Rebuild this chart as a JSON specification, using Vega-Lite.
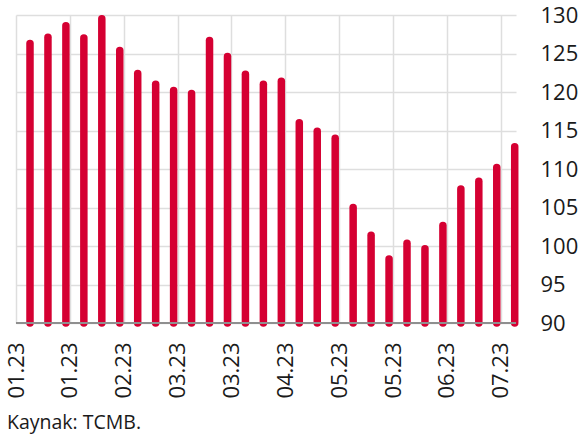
{
  "$schema": "https://vega.github.io/schema/vega-lite/v6.json",
  "width": 500,
  "height": 308,
  "autosize": {"type": "none"},
  "padding": {"left": 16, "top": 15, "right": 68, "bottom": 116},
  "background": "white",
  "config": {
    "view": {"stroke": null},
    "font": "Open Sans"
  },
  "title": {
    "text": "Kaynak: TCMB.",
    "orient": "bottom",
    "anchor": "start",
    "frame": "group",
    "fontSize": 19.5,
    "fontWeight": "normal",
    "color": "#1a1a1a",
    "font": "Open Sans",
    "dx": -9,
    "offset": 16
  },
  "data": {
    "values": [
      {"date": "2022-12-31", "value": 128.6},
      {"date": "2023-01-07", "value": 126.3},
      {"date": "2023-01-14", "value": 127.1},
      {"date": "2023-01-21", "value": 128.6},
      {"date": "2023-01-28", "value": 127.0},
      {"date": "2023-02-04", "value": 129.5},
      {"date": "2023-02-11", "value": 125.4},
      {"date": "2023-02-18", "value": 122.4},
      {"date": "2023-02-25", "value": 121.0},
      {"date": "2023-03-04", "value": 120.2},
      {"date": "2023-03-11", "value": 119.8},
      {"date": "2023-03-18", "value": 126.7},
      {"date": "2023-03-25", "value": 124.6},
      {"date": "2023-04-01", "value": 122.3},
      {"date": "2023-04-08", "value": 121.0},
      {"date": "2023-04-15", "value": 121.4},
      {"date": "2023-04-22", "value": 116.0},
      {"date": "2023-04-29", "value": 114.9},
      {"date": "2023-05-06", "value": 114.0},
      {"date": "2023-05-13", "value": 105.0},
      {"date": "2023-05-20", "value": 101.4},
      {"date": "2023-05-27", "value": 98.3},
      {"date": "2023-06-03", "value": 100.35},
      {"date": "2023-06-10", "value": 99.65},
      {"date": "2023-06-17", "value": 102.65},
      {"date": "2023-06-24", "value": 107.4},
      {"date": "2023-07-01", "value": 108.4},
      {"date": "2023-07-08", "value": 110.2},
      {"date": "2023-07-15", "value": 112.9}
    ]
  },
  "encoding": {
    "x": {
      "field": "date",
      "type": "temporal",
      "scale": {
        "type": "utc",
        "domain": [
          {"year": 2023, "month": 1, "date": 1, "hours": 13, "utc": true},
          {"year": 2023, "month": 7, "date": 15, "hours": 12, "utc": true}
        ]
      },
      "axis": {
        "title": null,
        "orient": "bottom",
        "domain": false,
        "ticks": false,
        "grid": true,
        "gridColor": "#dedede",
        "gridWidth": 1.5,
        "values": [
          {"year": 2023, "month": 1, "date": 1, "hours": 13, "utc": true},
          {"year": 2023, "month": 1, "date": 22, "hours": 13, "utc": true},
          {"year": 2023, "month": 2, "date": 12, "hours": 13, "utc": true},
          {"year": 2023, "month": 3, "date": 5, "hours": 13, "utc": true},
          {"year": 2023, "month": 3, "date": 26, "hours": 13, "utc": true},
          {"year": 2023, "month": 4, "date": 16, "hours": 13, "utc": true},
          {"year": 2023, "month": 5, "date": 7, "hours": 13, "utc": true},
          {"year": 2023, "month": 5, "date": 28, "hours": 13, "utc": true},
          {"year": 2023, "month": 6, "date": 18, "hours": 13, "utc": true},
          {"year": 2023, "month": 7, "date": 9, "hours": 13, "utc": true}
        ],
        "labelExpr": "utcFormat(datum.value, '%m.%y')",
        "labelAngle": 270,
        "labelAlign": "right",
        "labelBaseline": "middle",
        "labelFontSize": 22,
        "labelColor": "#1a1a1a",
        "labelPadding": 19,
        "labelFlush": false,
        "labelOverlap": false,
        "labelBound": false
      }
    },
    "y": {
      "field": "value",
      "type": "quantitative",
      "scale": {"domain": [90, 130], "nice": false, "zero": false},
      "axis": {
        "title": null,
        "orient": "right",
        "domain": false,
        "ticks": false,
        "grid": true,
        "gridColor": "#dedede",
        "gridWidth": 1.5,
        "values": [90, 95, 100, 105, 110, 115, 120, 125, 130],
        "labelFontSize": 22,
        "labelColor": "#1a1a1a",
        "labelPadding": 24,
        "labelAlign": "left",
        "labelFlush": false,
        "labelOverlap": false,
        "labelBound": false
      }
    },
    "y2": {"datum": 90}
  },
  "layer": [
    {
      "transform": [{"filter": "utcyear(toDate(datum.date)) > 2022"}],
      "mark": {"type": "rule", "color": "#d50032", "strokeWidth": 7.5, "strokeCap": "round", "clip": false}
    },
    {
      "transform": [{"filter": "utcyear(toDate(datum.date)) <= 2022"}],
      "mark": {"type": "rule", "color": "#d50032", "strokeWidth": 7.5, "strokeCap": "round", "clip": true}
    },
    {
      "mark": {"type": "rule", "color": "#8f8f8f", "strokeWidth": 2},
      "encoding": {
        "x": {"value": 0},
        "x2": {"value": 500},
        "y": {
          "datum": 90,
          "type": "quantitative",
          "axis": {
            "title": null,
            "orient": "right",
            "domain": false,
            "ticks": false,
            "grid": true,
            "gridColor": "#dedede",
            "gridWidth": 1.5,
            "values": [90, 95, 100, 105, 110, 115, 120, 125, 130],
            "labelFontSize": 22,
            "labelColor": "#1a1a1a",
            "labelPadding": 24,
            "labelAlign": "left",
            "labelFlush": false,
            "labelOverlap": false,
            "labelBound": false
          }
        },
        "y2": null
      }
    }
  ]
}
